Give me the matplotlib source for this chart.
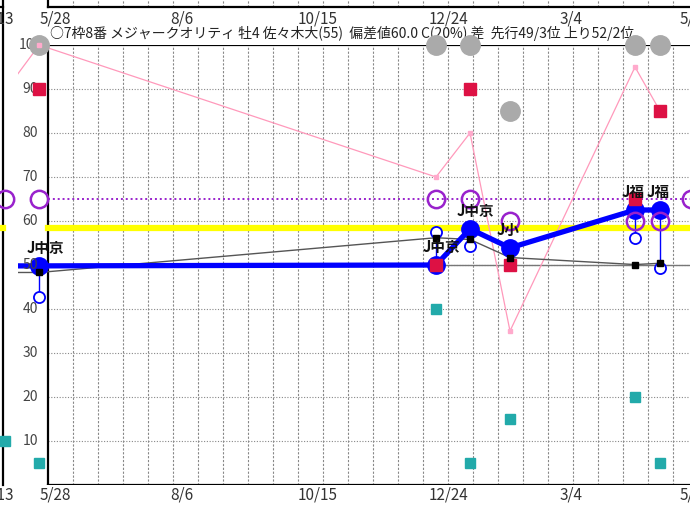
import matplotlib.pyplot as plt

plt.rcParams['font.family'] = ['Noto Sans CJK JP', 'DejaVu Sans']

# x is measured in grid steps (one step = 2 weeks) from the left frame line
race_x = [-0.35, 15.52, 16.88, 18.48, 23.48, 24.48]
course = ["J中京", "J中京", "J中京", "J小", "J福", "J福"]
score = [49.8, 50.0, 58.2, 53.9, 62.5, 62.5]          # blue line
score_sub = [42.8, 57.4, 54.4, None, 56.1, 49.3]      # small open circles
pace = [48.3, 56.2, 55.8, 51.7, 50.1, 50.4]           # thin black line
red = [90, 50, 90, 50, 65, 85]
teal = [5, 40, 5, 15, 20, 5]
pink = [100, 70, 80, 35, 95, 85]
gray = [100, 100, 100, 85, 100, 100]
purple = [65, 65, 65, 60, 60, 60]

# previous race (neighbour panel on the left) and next marker on the right
prev_x = -1.72
prev_score, prev_pace, prev_pink, prev_teal, prev_purple = 49.8, 48.3, 89.5, 10, 65
next_x = 25.72
next_purple = 65

tick_pos = [-2.0, 0.28, 5.36, 10.8, 16.0, 20.92, 25.88]
tick_labels = ["5/13", "5/28", "8/6", "10/15", "12/24", "3/4", "5/13"]
ytick_vals = [10, 20, 30, 40, 50, 60, 70, 80, 90, 100]

title = "○7枠8番 メジャークオリティ 牡4 佐々木大(55)  偏差値60.0 C(20%) 差  先行49/3位 上り52/2位"
avg_line = 58.3
class_line = 65

fig = plt.figure(figsize=(6.9, 5.05), dpi=100)
ax = fig.add_axes([18 / 690, 20 / 505, 672 / 690, 440 / 505])
xmax = 25.68
ax.set_xlim(-1.2, xmax)
ax.set_ylim(0, 100)
ax.axis('off')

# grid
for gx in range(1, 26):
    ax.plot([gx, gx], [0, 100], color='#888888', lw=0.8, ls=(0, (2, 1.5)), zorder=1)
    ax.plot([gx, gx], [108.6, 110.5], color='#888888', lw=0.8, ls=(0, (2, 1.5)), zorder=1, clip_on=False)
for gy in ytick_vals[:-1]:
    ax.plot([0, xmax], [gy, gy], color='#888888', lw=0.8, ls=(0, (1, 1.5)), zorder=1)

# frame lines (this panel, the one above and the one on the left)
ax.plot([0, 0], [0, 100], color='black', lw=1.6, zorder=2)
ax.plot([0, xmax], [100, 100], color='black', lw=1.6, zorder=2)
ax.plot([0, xmax], [0, 0], color='black', lw=1.6, zorder=2)
ax.plot([0, xmax], [108.6, 108.6], color='black', lw=1.6, zorder=2, clip_on=False)
ax.plot([0, 0], [108.6, 110.5], color='black', lw=1.6, zorder=2, clip_on=False)
ax.plot([-1.8, -1.8], [0, 110.5], color='black', lw=1.6, zorder=2, clip_on=False)
ax.plot([-1.95, -1.8], [108.6, 108.6], color='black', lw=1.6, zorder=2, clip_on=False)

# reference lines
ax.plot([0, xmax], [avg_line, avg_line], color='#ffff00', lw=4.5, zorder=2)
ax.plot([-1.95, -1.8], [avg_line, avg_line], color='#ffff00', lw=4.5, zorder=2, clip_on=False)
ax.plot([-1.2, xmax], [50, 50], color='#777777', lw=1.0, zorder=2)
ax.plot([0, xmax], [class_line, class_line], color='#9922cc', lw=1.4, ls=(0, (1, 1.5)), zorder=2)

xs = [prev_x] + race_x

# pink line
ax.plot(xs, [prev_pink] + pink, color='#ff99bb', lw=0.9, zorder=3)
ax.plot(race_x, pink, ls='none', marker='s', ms=3.5, mfc='#ffaacc', mec='#ffaacc',
        zorder=8.5, clip_on=False)

# thin black line
ax.plot(xs, [prev_pace] + pace, color='#555555', lw=1.0, zorder=3)

# teal squares
ax.plot([prev_x] + race_x, [prev_teal] + teal, ls='none', marker='s', ms=7,
        color='#22aaaa', zorder=4, clip_on=False)

# blue line
ax.plot(xs, [prev_score] + score, color='#0000ff', lw=3.8, zorder=5)
ax.plot(race_x, score, ls='none', marker='o', ms=12.5, color='#0000ff', zorder=5, clip_on=False)

# small open circles tied to the blue points
for x, s, sub in zip(race_x, score, score_sub):
    if sub is None:
        continue
    ax.plot([x, x], [s, sub], color='#0000ff', lw=1.0, zorder=5.5, clip_on=False)
    ax.plot(x, sub, marker='o', ms=8, mfc='white', mec='#0000ff', mew=1.3, zorder=5.5, clip_on=False)

# purple circles
ax.plot([prev_x] + race_x + [next_x], [prev_purple] + purple + [next_purple], ls='none',
        marker='o', ms=12.5, mfc='none', mec='#9922cc', mew=1.8, zorder=7, clip_on=False)

# gray circles
ax.plot(race_x, gray, ls='none', marker='o', ms=14, color='#aaaaaa', zorder=8, clip_on=False)

ax.plot(race_x, red, ls='none', marker='s', ms=8.5, color='#dd1144', zorder=8.7, clip_on=False)
ax.plot(race_x, pace, ls='none', marker='s', ms=4.5, color='black', zorder=8.8, clip_on=False)

# course labels
for x, s, c in zip(race_x, score, course):
    ax.annotate(c, (x, s), xytext=(-13, 18), textcoords='offset pixels', ha='left', va='center',
                fontsize=10.5, fontweight='bold', color='#111111', zorder=9, annotation_clip=False)

# y labels
for v in ytick_vals:
    ax.text(-0.72, v, str(v), ha='center', va='center', fontsize=10, color='#444444', zorder=7.5)

# date rows (bottom of this panel, bottom of panel above)
for p, t in zip(tick_pos, tick_labels):
    ax.text(p, -2.3, t, ha='center', va='center', fontsize=11, color='#333333', clip_on=False)
    ax.text(p, 106.0, t, ha='center', va='center', fontsize=11, color='#333333', clip_on=False)

ax.text(0.1, 102.6, title, ha='left', va='center', fontsize=10, color='#222222', zorder=7, clip_on=False)

fig.savefig('out.png', dpi=100)
